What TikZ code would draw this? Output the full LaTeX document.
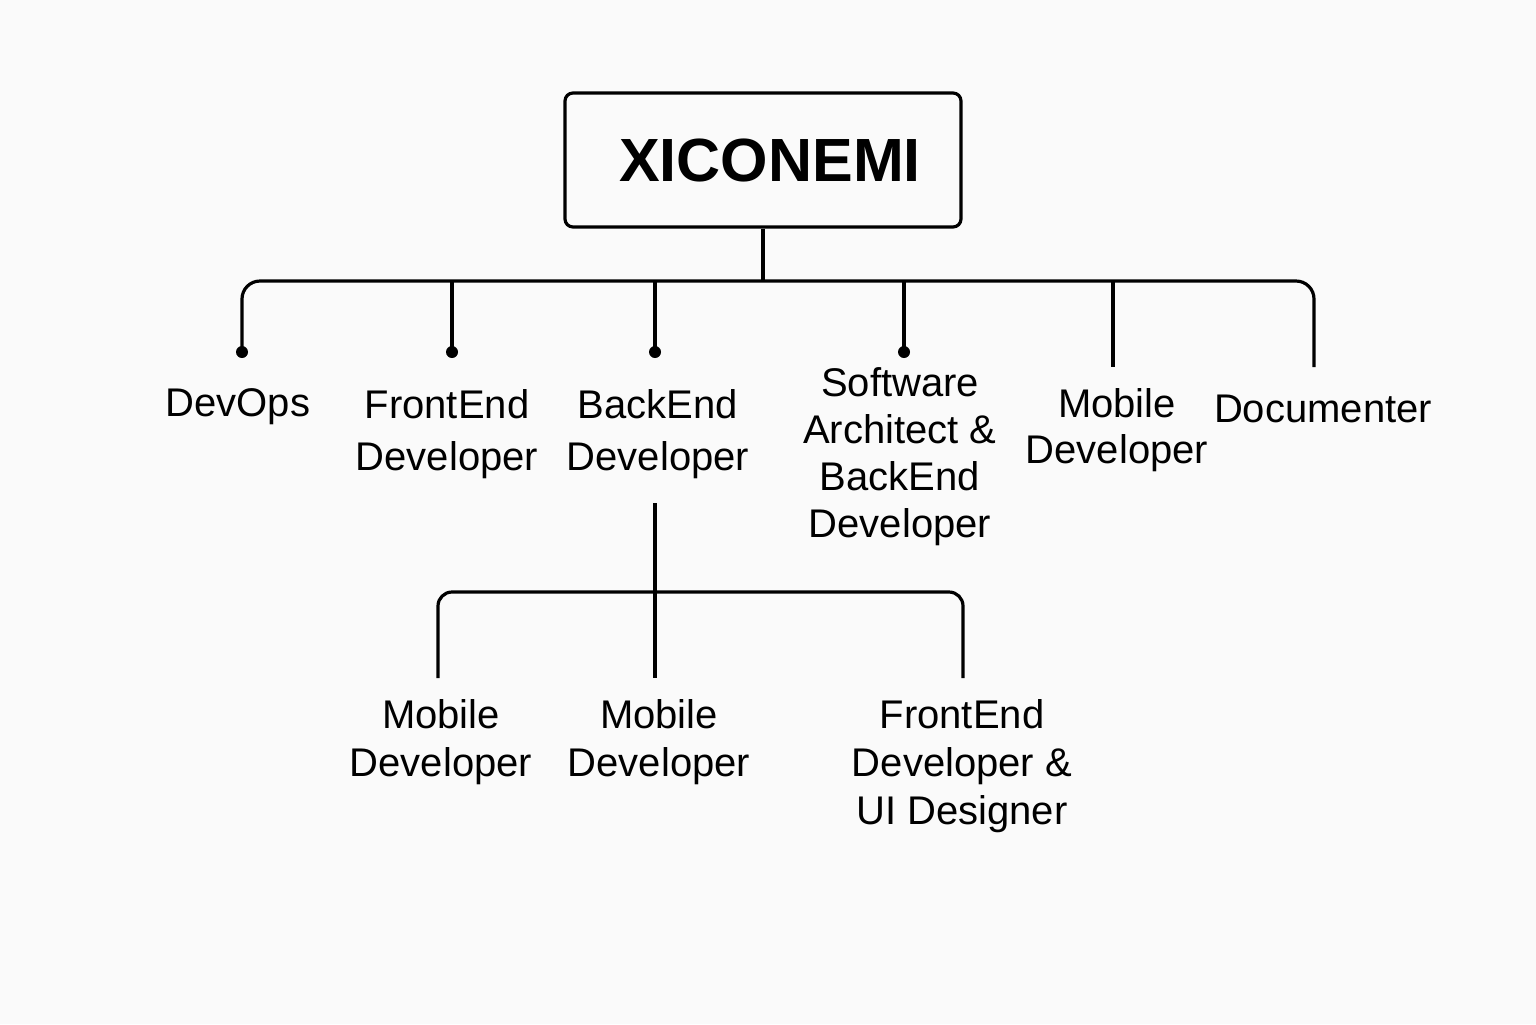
\documentclass[tikz,border=0pt]{standalone}
\usepackage{fontspec}
\setmainfont{Liberation Sans}
\begin{document}
\begin{tikzpicture}[x=0.5pt,y=-0.5pt,line width=1.6pt]
            \tikzstyle{every node}+=[inner sep=0pt]
            \tikzstyle{role}=[align=center,font=\fontsize{20}{24}\selectfont]
            \tikzstyle{roletall}=[align=center,font=\fontsize{20}{26}\selectfont]
            \fill [black!2] (0,0) rectangle (1536,1024);
            \useasboundingbox (0,0) rectangle (1536,1024);
            \draw (763,160) node [draw,rounded corners=4pt,minimum width=198pt,minimum height=67pt] (root) {\bfseries\fontsize{30.5}{36}\selectfont\hspace*{7pt}XICONEMI};
            % top level
            \coordinate (bus) at (763,281);
            \coordinate (t1) at (242,352);
            \coordinate (t2) at (452,352);
            \coordinate (t3) at (655,352);
            \coordinate (t4) at (904,352);
            \coordinate (t5) at (1113,367);
            \coordinate (t6) at (1314,367);
            \draw (root.south) -- (bus);
            \draw [rounded corners=9pt] (t1) |- (bus) -| (t6);
            \foreach \t in {t2,t3,t4,t5}
                \draw (\t |- bus) -- (\t);
            \foreach \t in {t1,t2,t3,t4}
                \fill (\t) circle (3pt);
            \draw (238,407) node [role] (devops) {DevOps};
            \draw (447,434) node [roletall] (frontend) {FrontEnd\\Developer};
            \draw (658,434) node [roletall] (backend) {BackEnd\\Developer};
            \draw (900,457) node [align=center,font=\fontsize{20}{23.5}\selectfont] (architect) {Software\\Architect \&\\BackEnd\\Developer};
            \draw (1117,430) node [align=center,font=\fontsize{20}{23}\selectfont] (mobile) {Mobile\\Developer};
            \draw (1323,409) node [role] (documenter) {Documenter};
            % under backend
            \coordinate (sub) at (655,503);
            \coordinate (subbus) at (655,592);
            \coordinate (b1) at (438,678);
            \coordinate (b2) at (655,678);
            \coordinate (b3) at (963,678);
            \draw (sub) -- (b2);
            \draw [rounded corners=7pt] (b1) |- (subbus) -| (b3);
            \draw (441,742) node [role] (mobilea) {Mobile\\Developer};
            \draw (659,742) node [role] (mobileb) {Mobile\\Developer};
            \draw (962,766) node [role] (designer) {FrontEnd\\Developer \&\\UI Designer};
\end{tikzpicture}
\end{document}
